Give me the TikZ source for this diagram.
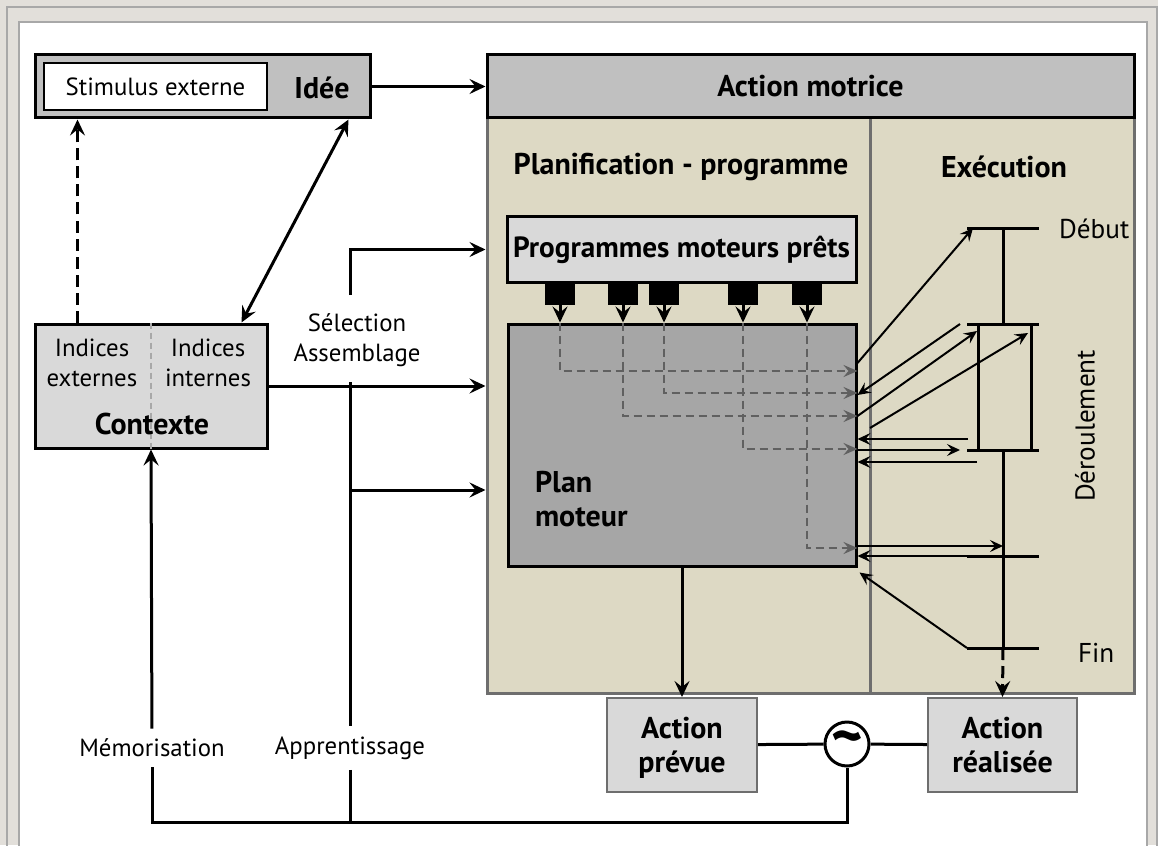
\documentclass[tikz,border=0pt]{standalone}
\usepackage{fontspec}
\setmainfont{PT Sans}
\usetikzlibrary{arrows.meta, fit}

\definecolor{bandgray}{HTML}{E2DFDA}
\definecolor{framegray}{HTML}{A8A8A8}
\definecolor{boxgray}{HTML}{C0C0C0}
\definecolor{lightbox}{HTML}{D9D9D9}
\definecolor{plangray}{HTML}{A6A6A6}
\definecolor{tan}{HTML}{DDD9C4}
\definecolor{edgegray}{HTML}{6E6E6E}
\definecolor{dashgray}{HTML}{606060}

\newcommand\basefont{\fontsize{12.4}{15}\selectfont}
\newcommand\sidefont{\fontsize{13.6}{16}\selectfont}
\newcommand\headfont{\fontsize{15}{17}\selectfont\bfseries}

\begin{document}
\begin{tikzpicture}[x=0.5pt, y=-0.5pt, font=\basefont,
  panel/.style={draw=black, line width=1.5pt, inner sep=0pt},
  ideabox/.style={panel, fill=boxgray},
  readybox/.style={panel, fill=lightbox},
  planbox/.style={panel, fill=plangray},
  outbox/.style={draw=edgegray, line width=1pt, fill=lightbox, inner sep=0pt},
  zone/.style={draw=edgegray, line width=1.5pt, fill=tan, inner sep=0pt},
  title/.style={font=\headfont, align=center},
  side/.style={font=\sidefont},
  plug/.style={fill=black, minimum width=15pt, minimum height=11.5pt, inner sep=0pt},
  link/.style={line width=1.5pt},
  arr/.style={link, -{Stealth[length=8pt, width=7.5pt, inset=3pt]}},
  dbl/.style={link, {Stealth[length=8pt, width=7.5pt, inset=3pt]}-{Stealth[length=8pt, width=7.5pt, inset=3pt]}},
  fine/.style={line width=1pt, -{Stealth[length=6.5pt, width=6pt, inset=2.5pt]}},
  route/.style={draw=dashgray, line width=1pt, dash pattern=on 4pt off 2.5pt, -{Stealth[length=7pt, width=6pt, inset=2.5pt]}},
  bar/.style={line width=1.5pt},
  gap/.style={inner xsep=2pt, inner ysep=5pt},
  compare/.style={circle, draw, fill=white, line width=1.5pt, minimum size=22pt, inner sep=0pt, font=\fontsize{30}{30}\selectfont\bfseries}]
  \useasboundingbox (0,0) rectangle (1160,845);
  % --- frame ---
  \fill[bandgray] (0,0) rectangle (1160,845);
  \fill[white] (1158,0) rectangle (1160,845);
  \draw[framegray, line width=1pt] (7,7) rectangle (1157,900);
  \filldraw[fill=white, draw=framegray, line width=1pt] (19,22) rectangle (1147,900);

  % --- left: idea and context ---
  \node[ideabox, fit={(35,55)(370,118)}] (idee) {};
  \node[panel, line width=1pt, fill=white, fit={(44,63)(267,110)}] (stim) {};
  \node (stimt) at (stim) {Stimulus externe};
  \node[title] (ideet) at (322,88) {Idée};
  \node[readybox, fit={(35,324)(267,448)}] (ctx) {};
  \draw[framegray, line width=0.75pt, dash pattern=on 3pt off 2pt] (ctx.north) -- (ctx.south);
  \node[align=center] (ext) at (92,363) {Indices\\externes};
  \node[align=center] (int) at (208,363) {Indices\\internes};
  \node[title] (ctxt) at (152,424) {Contexte};

  % --- right: action motrice ---
  \node[zone, fit={(487,118)(1134,693)}] (zone) {};
  \coordinate (div) at (870,118);
  \draw[edgegray, line width=1.5pt] (div) -- (div |- zone.south);
  \node[ideabox, fit={(487,55)(1134,118)}] (motrice) {};
  \node[title] (motricet) at (motrice) {Action motrice};
  \node[title] (plant) at (681,167) {Planification - programme};
  \node[title] (exect) at (1004,167) {Exécution};
  \node[readybox, fit={(507,217)(856,282)}] (prog) {};
  \node[title, font=\fontsize{14.6}{17}\selectfont\bfseries] (progt) at (prog) {Programmes moteurs prêts};
  \node[planbox, fit={(508,324)(856,566)}] (plan) {};
  \node[title, align=left, anchor=west] (plant2) at (528,499) {Plan\\moteur};
  \foreach \xx [count=\i] in {560,623,664,743,807}
    \node[plug] (p\i) at (\xx,293.5) {};
  \foreach \i/\yy in {1/371, 2/416, 3/393, 4/449, 5/548}
    \draw[route] (p\i.south |- plan.north) |- (plan.east |- 0,\yy);
  \foreach \i in {1,...,5}
    \draw[arr] (p\i.south) -- (p\i.south |- plan.north);

  % --- execution line ---
  \coordinate (tdeb) at (1003,228);
  \coordinate (tbox) at (1003,324);
  \coordinate (tboxb) at (1003,450);
  \coordinate (tmid) at (1003,556);
  \coordinate (tfin) at (1003,648);
  \foreach \c in {tdeb,tbox,tboxb,tmid,tfin}
    \draw[bar] ([xshift=-18pt]\c) -- ([xshift=18pt]\c);
  \draw[bar] (tdeb) -- (tbox);
  \draw[bar] (tboxb) -- (tfin);
  \draw[bar] ([xshift=-12.5pt]tbox) -- ([xshift=-12.5pt]tboxb);
  \draw[bar] ([xshift=14pt]tbox) -- ([xshift=14pt]tboxb);
  \node[side, anchor=west] (debt) at (1052,229) {Début};
  \node[side, anchor=west] (fint) at (1071,653) {Fin};
  \node[side, rotate=90] (derou) at (1085,426) {Déroulement};

  \draw[fine] (plan.east |- 0,363) -- ([xshift=-15pt]tdeb);
  \draw[fine] ([xshift=-21.5pt]tbox) -- (plan.east |- 0,395);
  \draw[fine] (plan.east |- 0,416) -- ([xshift=-13pt, yshift=-3.5pt]tbox);
  \draw[fine] (div |- 0,428) -- ([xshift=12.5pt, yshift=-4.5pt]tbox);
  \draw[fine] ([xshift=-17.5pt, yshift=5.5pt]tboxb) -- (plan.east |- 0,439);
  \draw[fine] (plan.east |- tboxb) -- ([xshift=-21.5pt]tboxb);
  \draw[fine] ([xshift=-13pt, yshift=-6pt]tboxb) -- (plan.east |- 0,462);
  \draw[fine] (plan.east |- 0,546) -- ([yshift=5pt]tmid);
  \draw[fine] ([xshift=-18pt]tmid) -- (plan.east |- tmid);
  \draw[fine] ([xshift=-18pt]tfin) -- ([xshift=1pt, yshift=-2.5pt]plan.south east);

  % --- outcome ---
  \node[outbox, fit={(607,698)(757,792)}] (prev) {};
  \node[title, anchor=north] (prevt) at ([yshift=-6.5pt]prev.north) {Action\\prévue};
  \node[outbox, fit={(928,698)(1077,792)}] (real) {};
  \node[title, anchor=north] (realt) at ([yshift=-6.5pt]real.north) {Action\\réalisée};
  \node[compare] (cmp) at (847,744) {\textasciitilde};
  \draw[link] (prev) -- (cmp) -- (real);
  \draw[arr] (plan.south) -- (prev.north);
  \draw[arr, dash pattern=on 6pt off 3pt] (tfin) -- (real.north);

  % --- connections on the left ---
  \draw[arr] (idee.east) -- (motrice.west);
  \draw[arr, dash pattern=on 6pt off 3pt] ([xshift=22pt]ctx.north west) -- ([xshift=22pt]idee.south west);
  \draw[dbl] ([xshift=-11.5pt]idee.south east) -- ([xshift=-13.5pt]ctx.north east);
  \draw[arr] (ctx.east) -- (ctx.east -| zone.west);
  \node[align=center] (sel) at (357,340) {Sélection\\Assemblage};
  \coordinate (selup) at (350,295);
  \coordinate (seldown) at (350,382);
  \coordinate (tap) at (350,490);
  \coordinate (base) at (152,822);
  \draw[arr] (selup) |- (zone.west |- prog);
  \draw[arr] (tap) -- (zone.west |- tap);
  \node[gap] (memo) at (152,748) {Mémorisation};
  \node[gap] (appr) at (350,748) {Apprentissage};
  \draw[arr] (memo) -- (ctx.south);
  \draw[link] (memo) |- (cmp |- base) -- (cmp);
  \draw[link] (seldown) -- (appr) -- (appr |- base);
\end{tikzpicture}
\end{document}
